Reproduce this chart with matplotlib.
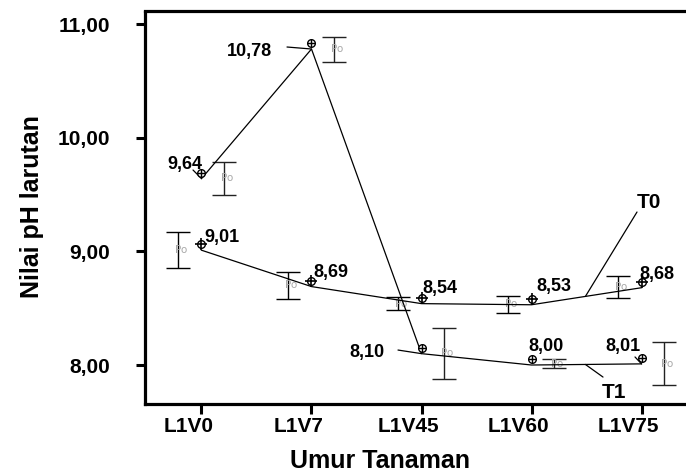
import matplotlib
matplotlib.use("Agg")
import matplotlib.pyplot as plt
from matplotlib.transforms import ScaledTranslation, offset_copy
import numpy as np

plt.rcParams['font.family'] = ['Liberation Sans', 'DejaVu Sans']
plt.rcParams['font.weight'] = 'bold'

# --- data -------------------------------------------------------------
categories = ["L1V0", "L1V7", "L1V45", "L1V60", "L1V75"]
t0_mean = [9.01, 8.69, 8.54, 8.53, 8.68]
t1_mean = [9.64, 10.78, 8.10, 8.00, 8.01]
t0_low = [8.85, 8.58, 8.48, 8.46, 8.59]
t0_high = [9.17, 8.82, 8.60, 8.61, 8.78]
t1_low = [9.50, 10.67, 7.88, 7.97, 7.82]
t1_high = [9.79, 10.89, 8.33, 8.05, 8.20]
y_ticks = [8.0, 9.0, 10.0, 11.0]
y_tick_labels = ["8,00", "9,00", "10,00", "11,00"]

W, H, DPI = 686, 473, 100
fig = plt.figure(figsize=(W / DPI, H / DPI), dpi=DPI)
ax = fig.add_axes([145 / W, (473 - 404) / H, (686 - 145) / W, (404 - 11.5) / H])

x = np.arange(len(categories))

ax.set_xlim(-0.5136, 4.4045)
ax.set_ylim(7.657, 11.110)

# spines
for side in ("left", "bottom", "top"):
    ax.spines[side].set_linewidth(2.3)
    ax.spines[side].set_color("black")
ax.spines["right"].set_visible(False)

ax.set_yticks(y_ticks)
ax.set_yticklabels(y_tick_labels)
ax.set_xticks(x)
ax.set_xticklabels(categories)
ax.tick_params(axis="y", length=6.5, width=2.2, pad=18.5, labelsize=15)
ax.tick_params(axis="x", length=7, width=2.2, pad=2.5, labelsize=15)
for lab in ax.get_xticklabels():
    lab.set_transform(lab.get_transform() + ScaledTranslation(-13 / DPI, 0, fig.dpi_scale_trans))
for lab in ax.get_xticklabels() + ax.get_yticklabels():
    lab.set_fontweight("bold")

# axis titles
ax.set_xlabel("Umur Tanaman", fontsize=18, fontweight="bold")
ax.xaxis.label.set_va("baseline")
ax.xaxis.set_label_coords(379.5 / W, (473 - 468) / H, transform=fig.transFigure)
ax.set_ylabel("Nilai pH larutan", fontsize=18, fontweight="bold")
ax.yaxis.label.set_va("center")
ax.yaxis.set_label_coords(32 / W, (473 - 207) / H, transform=fig.transFigure)

# mean lines
ax.plot(x, t0_mean, color="black", lw=0.9, zorder=3)
ax.plot(x, t1_mean, color="black", lw=0.9, zorder=3)

# point symbols, drawn a few pixels above each vertex
mk_tr = offset_copy(ax.transData, fig=fig, x=0, y=6, units="dots")
ax.plot(x, t0_mean, ls="none", marker="o", ms=5.5, mfc="white", mec="black", mew=1.0,
        transform=mk_tr, zorder=4)
ax.plot(x, t0_mean, ls="none", marker="+", ms=9, mec="black", mew=1.2,
        transform=mk_tr, zorder=5)
ax.plot(x, t1_mean, ls="none", marker="o", ms=5.5, mfc="white", mec="black", mew=1.0,
        transform=mk_tr, zorder=4)
ax.plot(x, t1_mean, ls="none", marker="+", ms=5.5, mec="black", mew=1.0,
        transform=mk_tr, zorder=5)

# confidence interval bars, set beside each point
def ci_bars(offset, low, high, color):
    low = np.asarray(low)
    high = np.asarray(high)
    mid = (low + high) / 2
    xs = x + offset
    ax.errorbar(xs, mid, yerr=[mid - low, high - mid], fmt="none", ecolor=color,
                elinewidth=1.0, capsize=8.6, capthick=1.0, zorder=2)
    for xi, mi in zip(xs, mid):
        ax.text(xi + 0.025, mi, "Po", fontsize=7.5, color="#a8a8a8", ha="center",
                va="center", fontweight="normal", family="DejaVu Sans", zorder=2)

ci_bars(-0.213, t0_low, t0_high, "black")
ci_bars(0.204, t1_low, t1_high, "#222222")

# value labels (offsets in pixels from each point)
t0_off = [(20.5, 13.2), (19.5, 13.6), (18.5, 15.6), (22.5, 17.8), (15, 13.7)]
t1_off = [(-17, 13.6), (-62.5, -2), (-55, 1.6), (14, 18.5), (-18.5, 16.9)]

def fmt(v):
    return f"{v:.2f}".replace(".", ",")

for xi, v, (dx, dy) in zip(x, t0_mean, t0_off):
    ax.annotate(fmt(v), xy=(xi, v), xytext=(dx, dy), textcoords="offset pixels",
                ha="center", va="center", fontsize=13, fontweight="bold", zorder=6)
for xi, v, (dx, dy) in zip(x, t1_mean, t1_off):
    ax.annotate(fmt(v), xy=(xi, v), xytext=(dx, dy), textcoords="offset pixels",
                ha="center", va="center", fontsize=13, fontweight="bold", zorder=6)

# leader lines from labels to points
leaders_t1 = {0: (-8.5, 8.6), 1: (-24.5, 2), 2: (-23.5, 3.6), 4: (-6.5, 6.9)}
for i, (dx, dy) in leaders_t1.items():
    ax.annotate("", xy=(x[i], t1_mean[i]), xytext=(dx, dy), textcoords="offset pixels",
                arrowprops=dict(arrowstyle="-", lw=0.9, color="black",
                                shrinkA=0, shrinkB=0))

# series names with leaders to their lines
u = 3.49
f = u - 3
t0_anchor = (u, t0_mean[3] + f * (t0_mean[4] - t0_mean[3]))
t1_anchor = (u, t1_mean[3] + f * (t1_mean[4] - t1_mean[3]))
ax.annotate("", xy=t0_anchor, xytext=(51.6, 84.4), textcoords="offset pixels",
            arrowprops=dict(arrowstyle="-", lw=0.9, color="black", shrinkA=0, shrinkB=0))
ax.annotate("T0", xy=t0_anchor, xytext=(63.6, 94.4), textcoords="offset pixels",
            ha="center", va="center", fontsize=15, fontweight="bold")
ax.annotate("", xy=t1_anchor, xytext=(17.6, -12.6), textcoords="offset pixels",
            arrowprops=dict(arrowstyle="-", lw=0.9, color="black", shrinkA=0, shrinkB=0))
ax.annotate("T1", xy=t1_anchor, xytext=(28.6, -27.6), textcoords="offset pixels",
            ha="center", va="center", fontsize=15, fontweight="bold")

fig.savefig("out.png", dpi=DPI)
